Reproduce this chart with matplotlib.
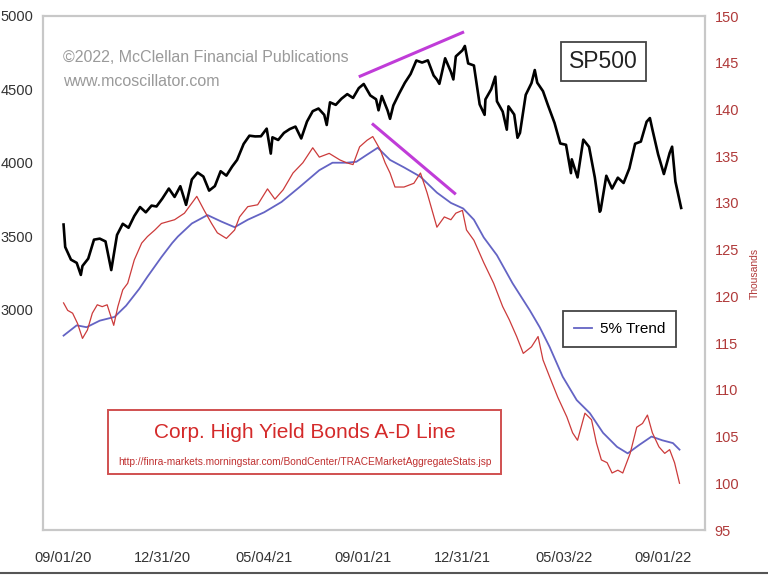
import pandas as pd
import matplotlib
matplotlib.use("Agg")
from matplotlib import pyplot as plt
from matplotlib.lines import Line2D
from matplotlib.patches import Rectangle

plt.rcParams['font.family'] = ['Liberation Sans', 'DejaVu Sans']

# S&P 500 closes (left axis)
sp_dates = [
    "2020-09-02", "2020-09-04", "2020-09-11", "2020-09-18", "2020-09-23", "2020-09-25",
    "2020-10-02", "2020-10-09", "2020-10-16", "2020-10-23", "2020-10-30", "2020-11-06",
    "2020-11-13", "2020-11-20", "2020-11-27", "2020-12-04", "2020-12-11", "2020-12-18",
    "2020-12-24", "2020-12-31", "2021-01-08", "2021-01-15", "2021-01-22", "2021-01-29",
    "2021-02-05", "2021-02-12", "2021-02-19", "2021-02-26", "2021-03-05", "2021-03-12",
    "2021-03-19", "2021-03-26", "2021-04-01", "2021-04-09", "2021-04-16", "2021-04-23",
    "2021-04-30", "2021-05-07", "2021-05-12", "2021-05-14", "2021-05-21", "2021-05-28",
    "2021-06-04", "2021-06-11", "2021-06-18", "2021-06-25", "2021-07-02", "2021-07-09",
    "2021-07-16", "2021-07-19", "2021-07-23", "2021-07-30", "2021-08-06", "2021-08-13",
    "2021-08-20", "2021-08-27", "2021-09-02", "2021-09-10", "2021-09-17", "2021-09-20",
    "2021-09-24", "2021-10-01", "2021-10-04", "2021-10-08", "2021-10-15", "2021-10-22",
    "2021-10-29", "2021-11-05", "2021-11-12", "2021-11-19", "2021-11-26", "2021-11-30",
    "2021-12-03", "2021-12-10", "2021-12-17", "2021-12-20", "2021-12-23", "2021-12-31",
    "2022-01-03", "2022-01-07", "2022-01-14", "2022-01-21", "2022-01-27", "2022-01-28",
    "2022-02-04", "2022-02-09", "2022-02-11", "2022-02-18", "2022-02-23", "2022-02-25",
    "2022-03-04", "2022-03-08", "2022-03-11", "2022-03-18", "2022-03-25", "2022-03-29",
    "2022-04-01", "2022-04-08", "2022-04-14", "2022-04-22", "2022-04-29", "2022-05-06",
    "2022-05-12", "2022-05-13", "2022-05-20", "2022-05-27", "2022-06-03", "2022-06-10",
    "2022-06-16", "2022-06-17", "2022-06-24", "2022-07-01", "2022-07-08", "2022-07-15",
    "2022-07-22", "2022-07-29", "2022-08-05", "2022-08-12", "2022-08-16", "2022-08-19",
    "2022-08-26", "2022-09-02", "2022-09-09", "2022-09-12", "2022-09-16", "2022-09-23",
]
sp_close = [
    3580, 3427, 3341, 3319, 3237, 3298,
    3348, 3477, 3484, 3465, 3270, 3509,
    3585, 3558, 3638, 3699, 3663, 3709,
    3703, 3756, 3825, 3768, 3841, 3714,
    3887, 3934, 3907, 3811, 3842, 3943,
    3913, 3975, 4020, 4129, 4185, 4180,
    4181, 4233, 4063, 4174, 4156, 4204,
    4230, 4247, 4166, 4281, 4352, 4370,
    4327, 4258, 4412, 4395, 4437, 4468,
    4442, 4509, 4537, 4459, 4433, 4358,
    4455, 4357, 4300, 4391, 4471, 4545,
    4605, 4697, 4683, 4698, 4595, 4567,
    4538, 4712, 4620, 4568, 4725, 4766,
    4796, 4677, 4663, 4398, 4327, 4432,
    4501, 4587, 4419, 4349, 4226, 4385,
    4329, 4171, 4204, 4463, 4543, 4632,
    4546, 4488, 4393, 4272, 4132, 4123,
    3930, 4024, 3901, 4158, 4109, 3901,
    3667, 3675, 3912, 3825, 3899, 3863,
    3962, 4130, 4145, 4280, 4305, 4228,
    4058, 3924, 4067, 4110, 3873, 3693,
]

# Corp. high yield bonds A-D line, thousands (right axis)
ad_dates = [
    "2020-09-02", "2020-09-07", "2020-09-13", "2020-09-19", "2020-09-25", "2020-10-01",
    "2020-10-07", "2020-10-13", "2020-10-19", "2020-10-25", "2020-11-02", "2020-11-07",
    "2020-11-13", "2020-11-19", "2020-11-27", "2020-12-06", "2020-12-13", "2020-12-22",
    "2020-12-30", "2021-01-07", "2021-01-15", "2021-01-27", "2021-02-11", "2021-02-20",
    "2021-03-01", "2021-03-08", "2021-03-19", "2021-03-29", "2021-04-04", "2021-04-14",
    "2021-04-26", "2021-05-08", "2021-05-17", "2021-05-27", "2021-06-08", "2021-06-20",
    "2021-07-02", "2021-07-10", "2021-07-22", "2021-08-04", "2021-08-12", "2021-08-20",
    "2021-08-28", "2021-09-06", "2021-09-13", "2021-09-22", "2021-09-28", "2021-10-04",
    "2021-10-10", "2021-10-21", "2021-11-02", "2021-11-10", "2021-11-18", "2021-11-30",
    "2021-12-09", "2021-12-17", "2021-12-23", "2021-12-31", "2022-01-05", "2022-01-14",
    "2022-01-26", "2022-02-07", "2022-02-18", "2022-02-26", "2022-03-07", "2022-03-15",
    "2022-03-25", "2022-04-02", "2022-04-08", "2022-04-16", "2022-04-26", "2022-05-07",
    "2022-05-14", "2022-05-20", "2022-05-29", "2022-06-06", "2022-06-12", "2022-06-18",
    "2022-06-25", "2022-07-01", "2022-07-08", "2022-07-14", "2022-07-23", "2022-07-31",
    "2022-08-07", "2022-08-13", "2022-08-19", "2022-08-27", "2022-09-03", "2022-09-09",
    "2022-09-15", "2022-09-21",
]
ad_line = [
    119.3, 118.5, 118.2, 117.1, 115.5, 116.4,
    118.2, 119.1, 118.9, 119.1, 116.9, 118.9,
    120.7, 121.4, 123.9, 125.7, 126.4, 127.1,
    127.8, 128.0, 128.2, 128.9, 130.7, 129.2,
    127.8, 126.8, 126.2, 127.1, 128.5, 129.6,
    129.8, 131.5, 130.4, 131.4, 133.2, 134.3,
    135.9, 134.9, 135.3, 134.6, 134.3, 134.1,
    136.0, 136.7, 137.1, 135.7, 134.3, 133.2,
    131.7, 131.7, 132.1, 133.2, 131.1, 127.4,
    128.5, 128.2, 128.9, 129.2, 127.1, 126.0,
    123.6, 121.4, 118.9, 117.5, 115.7, 113.9,
    114.6, 115.7, 113.2, 111.4, 109.2, 107.1,
    105.4, 104.6, 107.5, 106.8, 104.3, 102.5,
    102.2, 101.1, 101.4, 101.1, 103.2, 106.0,
    106.4, 107.3, 105.4, 103.9, 103.2, 103.6,
    102.2, 100.0,
]

# 5% trend of the A-D line
trend_dates = [
    "2020-09-02", "2020-09-18", "2020-09-30", "2020-10-16", "2020-11-03", "2020-11-17",
    "2020-12-03", "2020-12-13", "2020-12-30", "2021-01-12", "2021-01-19", "2021-02-05",
    "2021-02-24", "2021-03-13", "2021-03-29", "2021-04-14", "2021-05-04", "2021-05-25",
    "2021-06-16", "2021-07-10", "2021-07-26", "2021-08-12", "2021-08-24", "2021-09-05",
    "2021-09-19", "2021-10-04", "2021-10-21", "2021-11-10", "2021-11-30", "2021-12-17",
    "2022-01-01", "2022-01-14", "2022-01-26", "2022-02-11", "2022-03-02", "2022-03-23",
    "2022-04-04", "2022-04-16", "2022-05-02", "2022-05-19", "2022-06-04", "2022-06-20",
    "2022-07-07", "2022-07-20", "2022-08-03", "2022-08-18", "2022-08-31", "2022-09-13",
    "2022-09-21",
]
trend = [
    115.8, 116.9, 116.7, 117.4, 117.8, 119.0,
    120.8, 122.1, 124.2, 125.7, 126.4, 127.8,
    128.7, 128.0, 127.4, 128.2, 129.0, 130.1,
    131.7, 133.5, 134.3, 134.3, 134.4, 135.1,
    135.9, 134.6, 133.8, 132.8, 131.1, 130.0,
    129.4, 128.2, 126.3, 124.4, 121.4, 118.5,
    116.7, 114.6, 111.4, 108.9, 107.5, 105.4,
    103.9, 103.2, 104.1, 105.0, 104.6, 104.3,
    103.6,
]

# divergence lines (drawn against the left axis)
upper_dates = ["2021-08-27", "2022-01-02"]
upper_vals = [4586, 4892]
lower_dates = ["2021-09-12", "2021-12-23"]
lower_vals = [4268, 3786]

tick_dates = ["2020-09-01", "2020-12-31", "2021-05-04", "2021-09-01",
              "2021-12-31", "2022-05-03", "2022-09-01"]
tick_labels = ["09/01/20", "12/31/20", "05/04/21", "09/01/21",
               "12/31/21", "05/03/22", "09/01/22"]

RED = '#cc3b3b'
BLUE = '#6464c4'
MAGENTA = '#c03cd8'
FRAME = '#c8c8c8'

fig = plt.figure(figsize=(7.68, 5.76), dpi=100)
ax = fig.add_axes([43 / 768, 46 / 576, 662 / 768, 514 / 576])
ax2 = ax.twinx()

ax2.plot(pd.to_datetime(trend_dates), trend, color=BLUE, lw=1.3, label='5% Trend', zorder=2)
ax2.plot(pd.to_datetime(ad_dates), ad_line, color=RED, lw=0.9, zorder=3)
ax2.set_ylim(95, 150)
ax2.set_yticks(range(95, 151, 5))

ax.plot(pd.to_datetime(sp_dates), sp_close, color='black', lw=1.9)
ax.plot(pd.to_datetime(upper_dates), upper_vals, color=MAGENTA, lw=2.2, solid_capstyle='butt')
ax.plot(pd.to_datetime(lower_dates), lower_vals, color=MAGENTA, lw=2.2, solid_capstyle='butt')
ax.set_ylim(1500, 5000)
ax.set_yticks([3000, 3500, 4000, 4500, 5000])
ax.set_zorder(ax2.get_zorder() + 1)
ax.patch.set_visible(False)

ax.set_xlim(pd.Timestamp("2020-08-08"), pd.Timestamp("2022-10-22"))
ax.set_xticks(pd.to_datetime(tick_dates))
ax.set_xticklabels(tick_labels)

ax.tick_params(axis='y', length=0, pad=7, labelsize=10.5, labelcolor='#333333')
ax.tick_params(axis='x', length=0, pad=15, labelsize=10.5, labelcolor='#333333')
ax2.tick_params(axis='y', length=0, pad=7, labelsize=10.5, labelcolor='#b03a3a')
for a in (ax, ax2):
    for s in a.spines.values():
        s.set_color(FRAME)
        s.set_linewidth(1.5)

ax.text(0.03, 0.92, '\u00a92022, McClellan Financial Publications', transform=ax.transAxes,
        fontsize=11.5, color='#9a9a9a', va='center', ha='left')
ax.text(0.03, 0.872, 'www.mcoscillator.com', transform=ax.transAxes,
        fontsize=11.5, color='#9a9a9a', va='center', ha='left')

ax.text(0.847, 0.912, 'SP500', transform=ax.transAxes, fontsize=16.5, color='#222222',
        ha='center', va='center',
        bbox=dict(boxstyle='square,pad=0.35', fc='white', ec='#444444', lw=1.3))

ax.add_patch(Rectangle((0.0982, 0.109), 0.594, 0.1245, transform=ax.transAxes,
                       fill=False, ec='#d05050', lw=1.4))
ax.text(0.395, 0.189, 'Corp. High Yield Bonds A-D Line', transform=ax.transAxes,
        fontsize=15, color='#d42a2a', ha='center', va='center')
ax.text(0.395, 0.132,
        'http://finra-markets.morningstar.com/BondCenter/TRACEMarketAggregateStats.jsp',
        transform=ax.transAxes, fontsize=7.3, color='#c03030', ha='center', va='center')

leg = ax2.legend(loc='center', bbox_to_anchor=(0.871, 0.391), fontsize=11,
                 frameon=True, fancybox=False, framealpha=1, edgecolor='#444444',
                 handlelength=1.2, handletextpad=0.5, borderpad=0.7)
leg.get_frame().set_linewidth(1.3)

fig.text(755 / 768, 1 - 273 / 576, 'Thousands', rotation=90, color='#b03a3a',
         fontsize=7.5, ha='center', va='center')
fig.add_artist(Line2D([0, 1], [0.005, 0.005], transform=fig.transFigure,
                      color='#555555', lw=1.5))

fig.savefig('out.png', dpi=100)
